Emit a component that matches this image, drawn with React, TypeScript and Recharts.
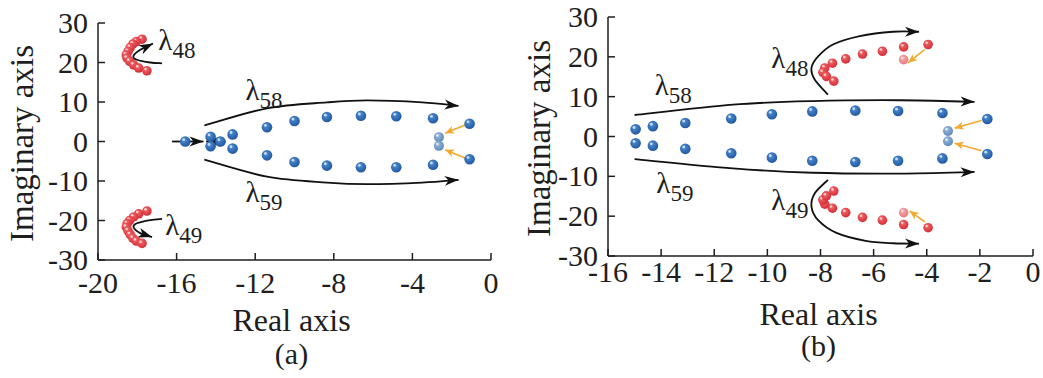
import React from 'react'
import { ScatterChart, Scatter, XAxis, YAxis, Customized } from 'recharts'

const FONT = "'Liberation Serif', 'Times New Roman', Times, serif"
const INK = '#1e1e1e'
const TXT = { fontFamily: FONT }

// shared y ticks
const yTicks = [-30, -20, -10, 0, 10, 20, 30]

// ---- panel (a) ----
const xTicksA = [-20, -16, -12, -8, -4, 0]
const blueA = [
  [-15.56, 0], [-14.27, 1.2], [-14.27, -1.2], [-13.77, 0], [-13.15, 1.8], [-13.15, -1.8],
  [-11.4, 3.6], [-11.4, -3.5], [-10.0, 5.2], [-10.0, -5.2], [-8.35, 6.2], [-8.35, -6.1],
  [-6.62, 6.5], [-6.62, -6.5], [-4.82, 6.4], [-4.82, -6.5], [-2.95, 5.9], [-2.95, -5.9],
  [-1.09, 4.5], [-1.09, -4.5],
]
const lightBlueA = [[-2.65, 1.1], [-2.65, -1.1]]
const redA = [
  [-17.76, 25.9], [-18.05, 25.3], [-18.22, 24.7], [-18.36, 23.8], [-18.47, 22.8], [-18.56, 21.9],
  [-18.52, 21.1], [-18.39, 20.3], [-18.19, 19.4], [-17.93, 18.6], [-17.51, 17.9],
  [-17.51, -17.6], [-17.93, -18.3], [-18.19, -19.1], [-18.39, -20.0], [-18.52, -20.8], [-18.56, -21.7],
  [-18.47, -22.6], [-18.36, -23.6], [-18.22, -24.5], [-18.05, -25.2], [-17.76, -25.8],
]

// ---- panel (b) ----
const xTicksB = [-16, -14, -12, -10, -8, -6, -4, -2, 0]
const blueB = [
  [-14.96, 1.8], [-14.96, -1.7], [-14.31, 2.6], [-14.31, -2.3], [-13.09, 3.4], [-13.09, -3.1],
  [-11.36, 4.5], [-11.36, -4.2], [-9.83, 5.6], [-9.83, -5.3], [-8.31, 6.3], [-8.31, -6.1],
  [-6.69, 6.5], [-6.69, -6.4], [-5.08, 6.4], [-5.08, -6.1], [-3.41, 5.9], [-3.41, -5.5],
  [-1.72, 4.4], [-1.72, -4.4],
]
const lightBlueB = [[-3.2, 1.4], [-3.2, -1.2]]
const redB = [
  [-3.95, 23.1], [-4.87, 22.5], [-5.67, 21.4], [-6.42, 20.7], [-7.05, 19.5], [-7.55, 18.4],
  [-7.84, 17.2], [-7.91, 16.1], [-7.78, 15.1], [-7.5, 13.9],
  [-3.95, -22.9], [-4.87, -22.1], [-5.67, -21.0], [-6.42, -20.3], [-7.05, -19.1], [-7.55, -18.0],
  [-7.84, -17.0], [-7.91, -15.9], [-7.78, -14.9], [-7.5, -13.7],
]
const lightRedB = [[-4.87, 19.3], [-4.87, -19.1]]

// annotation arrows (data coords the curve passes through)
const arrowsA = [
  { c: 'k', pts: [[-14.59, 4.05], [-11.4, 8.4], [-8.35, 9.9], [-6.3, 10.4], [-3.5, 9.9], [-1.65, 9.0]] },
  { c: 'k', pts: [[-14.59, -4.6], [-11.4, -8.9], [-8.35, -10.4], [-6.3, -10.8], [-3.5, -10.4], [-1.65, -9.7]] },
  { c: 'k', pts: [[-16.23, 0], [-14.63, 0]] },
  { c: 'k', pts: [[-13.5, 0], [-14.5, 0]] },
  { c: 'k', pts: [[-16.74, 19.8], [-17.34, 20.0], [-18.02, 20.7], [-18.2, 21.6], [-17.85, 23.2], [-17.2, 24.8]] },
  { c: 'k', pts: [[-16.74, -19.6], [-17.34, -19.9], [-18.02, -20.7], [-18.19, -21.7], [-17.85, -23.2], [-17.25, -24.2]] },
  { c: 'o', pts: [[-1.31, 4.2], [-2.33, 2.1]] },
  { c: 'o', pts: [[-1.31, -4.2], [-2.33, -2.1]] },
]
const arrowsB = [
  { c: 'k', pts: [[-15.0, 5.4], [-11.3, 8.0], [-8.3, 8.9], [-5.0, 9.1], [-2.2, 8.7]] },
  { c: 'k', pts: [[-15.0, -5.7], [-11.3, -8.0], [-8.3, -9.1], [-5.0, -9.3], [-2.2, -8.9]] },
  { c: 'k', pts: [[-7.72, 10.5], [-8.22, 14.3], [-8.34, 17.2], [-8.09, 20.1], [-7.53, 23.1], [-6.52, 25.2], [-5.27, 26.3], [-4.29, 26.3]] },
  { c: 'k', pts: [[-7.72, -10.9], [-8.22, -14.3], [-8.34, -17.6], [-8.09, -21.0], [-7.4, -24.2], [-6.3, -26.2], [-5.27, -26.8], [-4.29, -26.9]] },
  { c: 'o', pts: [[-1.94, 4.0], [-2.95, 2.1]] },
  { c: 'o', pts: [[-1.94, -3.6], [-2.95, -1.7]] },
  { c: 'o', pts: [[-4.08, 21.8], [-4.7, 18.5]] },
  { c: 'o', pts: [[-4.08, -21.4], [-4.64, -18.7]] },
]

// eigenvalue labels: [x, y, subscript]
const labelsA = [[-16.93, 23.2, '48'], [-16.58, -23.6, '49'], [-12.5, 10.6, '58'], [-12.5, -15.3, '59']]
const labelsB = [[-9.85, 17.3, '48'], [-9.85, -18.5, '49'], [-14.24, 10.5, '58'], [-14.18, -14.2, '59']]

const toPts = (arr) => arr.map(([x, y]) => ({ x, y }))

const COLORS = {
  blue: ['#4d8fd6', '#22589f'],
  lblue: ['#9bbbdc', '#5f88b8'],
  red: ['#f46a6c', '#d42d36'],
  lred: ['#fbb0b0', '#e8787c'],
}

const Defs = () => (
  <defs>
    {Object.entries(COLORS).map(([k, [a, b]]) => (
      <radialGradient key={k} id={`sph-${k}`} cx="40%" cy="35%" r="65%">
        <stop offset="0%" stopColor={a} />
        <stop offset="100%" stopColor={b} />
      </radialGradient>
    ))}
  </defs>
)

const sphere = (kind: string, r: number) => (p: any) => (
  <g>
    <circle cx={p.cx} cy={p.cy} r={r} fill={`url(#sph-${kind})`} />
    <circle cx={p.cx - r * 0.3} cy={p.cy - r * 0.35} r={r * 0.27} fill="#fff" opacity={0.7} />
  </g>
)

const mapper = (dom, plot) => ({
  x: (v) => plot.left + ((v - dom[0]) / (dom[1] - dom[0])) * plot.width,
  y: (v) => plot.top + ((30 - v) / 60) * plot.height,
})

const smooth = (p) => {
  let d = `M${p[0][0]},${p[0][1]}`
  let last = p[0]
  for (let i = 0; i < p.length - 1; i++) {
    const p0 = p[i - 1] || p[i]
    const p1 = p[i]
    const p2 = p[i + 1]
    const p3 = p[i + 2] || p2
    const c1 = [p1[0] + (p2[0] - p0[0]) / 6, p1[1] + (p2[1] - p0[1]) / 6]
    const c2 = [p2[0] - (p3[0] - p1[0]) / 6, p2[1] - (p3[1] - p1[1]) / 6]
    d += ` C${c1[0]},${c1[1]} ${c2[0]},${c2[1]} ${p2[0]},${p2[1]}`
    last = c2
  }
  return { d, from: last }
}

const Overlay = ({ dom, plot, arrows, labels, xTitle, tag, cx, yTitleX, titleY, tagY }) => {
  const m = mapper(dom, plot)
  const midY = plot.top + plot.height / 2 + 2
  return (
    <g>
      <Defs />
      {arrows.map((a, i) => {
        const pts = a.pts.map(([x, y]) => [m.x(x), m.y(y)])
        const { d, from } = smooth(pts)
        const tip = pts[pts.length - 1]
        let dx = tip[0] - from[0]
        let dy = tip[1] - from[1]
        const len = Math.hypot(dx, dy) || 1
        dx /= len
        dy /= len
        const k = a.c === 'k'
        const L = k ? 14 : 9
        const W = k ? 5 : 4
        const N = k ? 4 : 2.5
        const col = k ? '#111' : '#f2a92c'
        const head = `M${tip[0]},${tip[1]} L${tip[0] - L * dx - W * dy},${tip[1] - L * dy + W * dx} L${tip[0] - (L - N) * dx},${tip[1] - (L - N) * dy} L${tip[0] - L * dx + W * dy},${tip[1] - L * dy - W * dx} Z`
        return (
          <g key={i}>
            <path d={d} fill="none" stroke={col} strokeWidth={k ? 1.8 : 1.6} />
            <path d={head} fill={col} />
          </g>
        )
      })}
      {labels.map(([x, y, s], i) => (
        <text key={i} x={m.x(x)} y={m.y(y)} style={TXT} fontSize={29} fill={INK}>
          λ
          <tspan dy={8} fontSize={23}>{s}</tspan>
        </text>
      ))}
      <text x={cx} y={titleY} textAnchor="middle" style={TXT} fontSize={32} fill={INK}>
        {xTitle}
      </text>
      <text x={cx} y={tagY} textAnchor="middle" style={TXT} fontSize={30} fill={INK}>
        {tag}
      </text>
      <text
        x={yTitleX}
        y={midY}
        transform={`rotate(-90 ${yTitleX} ${midY})`}
        textAnchor="middle"
        dominantBaseline="central"
        style={TXT}
        fontSize={33}
        fill={INK}
      >
        Imaginary axis
      </text>
    </g>
  )
}

const makeXTick = (bottom: number, off: number) => (p: any) => (
  <g>
    <line x1={p.x} x2={p.x} y1={bottom} y2={bottom - 7} stroke={INK} strokeWidth={1.5} />
    <text x={p.x} y={bottom + off} textAnchor="middle" style={TXT} fontSize={30} fill={INK}>
      {p.payload.value}
    </text>
  </g>
)

const makeYTick = (left: number) => (p: any) => (
  <g>
    <line x1={left} x2={left + 7} y1={p.y} y2={p.y} stroke={INK} strokeWidth={1.5} />
    <text x={left - 10} y={p.y + 10} textAnchor="end" style={TXT} fontSize={30} fill={INK}>
      {p.payload.value}
    </text>
  </g>
)

const Panel = ({ width, plot, dom, xTicks, blue, lblue, red, lred, arrows, labels, tag, yTitleX, tickOff, titleY, tagY }) => {
  const bottom = plot.top + plot.height
  return (
    <ScatterChart
      width={width}
      height={378}
      margin={{ top: plot.top, right: width - plot.left - plot.width, bottom: 0, left: 0 }}
    >
      <XAxis
        type="number"
        dataKey="x"
        domain={dom}
        ticks={xTicks}
        allowDataOverflow
        height={378 - bottom}
        axisLine={{ stroke: INK, strokeWidth: 1.5 }}
        tickLine={false}
        tick={makeXTick(bottom, tickOff)}
        interval={0}
      />
      <YAxis
        type="number"
        dataKey="y"
        domain={[-30, 30]}
        ticks={yTicks}
        allowDataOverflow
        width={plot.left}
        axisLine={{ stroke: INK, strokeWidth: 1.5 }}
        tickLine={false}
        tick={makeYTick(plot.left)}
        interval={0}
      />
      <Customized
        component={
          <Overlay
            dom={dom}
            plot={plot}
            arrows={arrows}
            labels={labels}
            xTitle="Real axis"
            tag={tag}
            cx={plot.left + plot.width / 2 - (tag === '(a)' ? 3 : 2)}
            yTitleX={yTitleX}
            titleY={titleY}
            tagY={tagY}
          />
        }
      />
      <Scatter data={toPts(red)} isAnimationActive={false} shape={sphere('red', 4.8)} />
      {lred.length > 0 && <Scatter data={toPts(lred)} isAnimationActive={false} shape={sphere('lred', 4.8)} />}
      <Scatter data={toPts(blue)} isAnimationActive={false} shape={sphere('blue', 5.3)} />
      <Scatter data={toPts(lblue)} isAnimationActive={false} shape={sphere('lblue', 5)} />
    </ScatterChart>
  )
}

export default function App() {
  return (
    <div style={{ position: 'absolute', left: 0, top: 0, width: 1043, height: 378, background: '#fff', display: 'flex' }}>
      <Panel
        width={520}
        plot={{ left: 98, top: 23, width: 393, height: 237 }}
        dom={[-20, 0]}
        xTicks={xTicksA}
        blue={blueA}
        lblue={lightBlueA}
        red={redA}
        lred={[]}
        arrows={arrowsA}
        labels={labelsA}
        tag="(a)"
        yTitleX={22}
        tickOff={33}
        titleY={331}
        tagY={364}
      />
      <Panel
        width={523}
        plot={{ left: 88, top: 17, width: 425, height: 239 }}
        dom={[-16, 0]}
        xTicks={xTicksB}
        blue={blueB}
        lblue={lightBlueB}
        red={redB}
        lred={lightRedB}
        arrows={arrowsB}
        labels={labelsB}
        tag="(b)"
        yTitleX={19}
        tickOff={26}
        titleY={325}
        tagY={356}
      />
    </div>
  )
}
